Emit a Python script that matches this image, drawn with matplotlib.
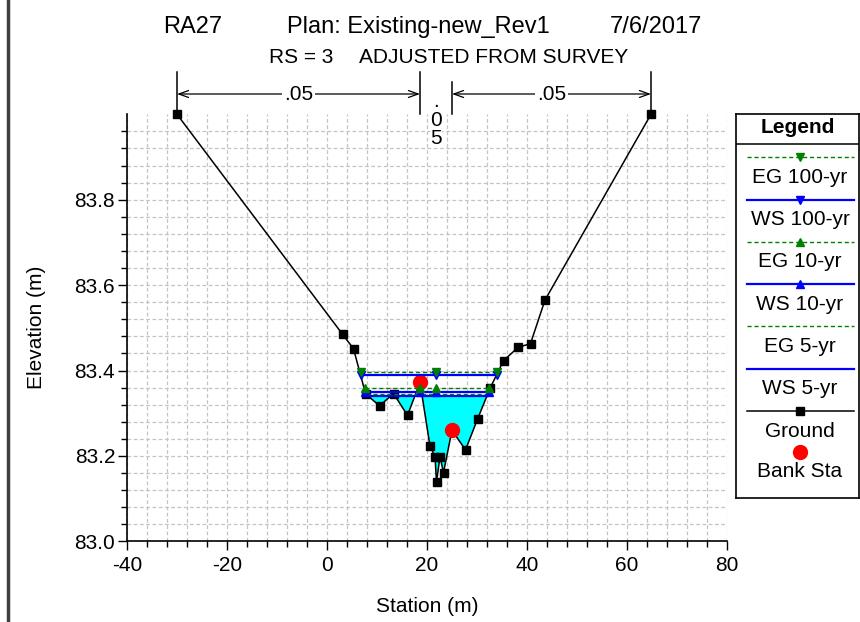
import matplotlib
matplotlib.use("Agg")
import matplotlib.pyplot as plt
import matplotlib.transforms as mtransforms
from matplotlib.lines import Line2D
from matplotlib.ticker import MultipleLocator, FixedLocator, FormatStrFormatter

plt.rcParams['font.family'] = ['Liberation Sans', 'DejaVu Sans']
plt.rcParams['axes.unicode_minus'] = False

# ground profile (station m, elevation m)
ground_sta = [-30.0, 3.1, 5.3, 7.7, 10.5, 13.3, 16.1, 18.6, 20.6, 21.6, 21.9,
              22.6, 23.3, 25.0, 27.7, 30.1, 32.6, 35.3, 38.2, 40.7, 43.6, 64.8]
ground_elev = [84.0, 83.485, 83.451, 83.346, 83.317, 83.346, 83.295, 83.372,
               83.223, 83.198, 83.139, 83.198, 83.161, 83.26, 83.214, 83.286,
               83.358, 83.423, 83.454, 83.463, 83.565, 84.0]

bank_sta = [18.6, 25.0]
bank_elev = [83.372, 83.26]

# profiles (legend order)
profile_names = ['EG 100-yr', 'WS 100-yr', 'EG 10-yr', 'WS 10-yr', 'EG 5-yr', 'WS 5-yr']
profile_elev = [83.397, 83.390, 83.358, 83.350, 83.346, 83.341]
profile_left = [6.6, 6.7, 7.5, 7.6, 7.7, 7.7]
profile_right = [34.0, 33.9, 32.4, 32.3, 32.1, 32.0]
marker_sta_100 = [6.7, 21.8, 33.9]
marker_sta_10 = [7.6, 18.6, 21.8, 32.3]

# mannings n values across the top
n_values = ['.05', '.05', '.05']

green = '#008000'
blue = '#0000ff'
styles = [
    dict(color=green, ls=(0, (3, 2)), lw=1.0, marker='v'),
    dict(color=blue, ls='-', lw=1.6, marker='v'),
    dict(color=green, ls=(0, (3, 2)), lw=1.0, marker='^'),
    dict(color=blue, ls='-', lw=1.6, marker='^'),
    dict(color=green, ls=(0, (3, 2)), lw=1.0, marker=None),
    dict(color=blue, ls='-', lw=1.6, marker=None),
]
marker_pos = [marker_sta_100, marker_sta_100, marker_sta_10, marker_sta_10, [], []]

fig = plt.figure(figsize=(8.6, 6.22), dpi=100)
ax = fig.add_axes([127/860, 1 - 541.3/622, 600/860, 427/622])

# water fill below lowest WS
ax.fill_between(ground_sta, ground_elev, profile_elev[5],
                where=[g < profile_elev[5] for g in ground_elev],
                interpolate=True, color='#00ffff', lw=0, zorder=2)

ax.plot(ground_sta, ground_elev, color='black', lw=1.1, marker='s',
        markersize=5.5, zorder=3, clip_on=False)
ax.plot(bank_sta, bank_elev, 'o', color='#ff0000', markersize=10, zorder=4)

# draw lower profiles first so the 100-yr ones sit on top
for i in [5, 4, 3, 2, 1, 0]:
    st = styles[i]
    ax.plot([profile_left[i], profile_right[i]], [profile_elev[i]] * 2,
            color=st['color'], ls=st['ls'], lw=st['lw'], zorder=5)
    if st['marker'] and marker_pos[i]:
        ax.plot(marker_pos[i], [profile_elev[i]] * len(marker_pos[i]),
                ls='none', marker=st['marker'], color=st['color'],
                markersize=6, zorder=6 if st['color'] == green else 5.5)

ax.set_xlim(-40, 80)
ax.set_ylim(83.0, 84.0)
ax.xaxis.set_major_locator(MultipleLocator(20))
ax.xaxis.set_minor_locator(MultipleLocator(4))
ax.yaxis.set_major_locator(FixedLocator([83.0, 83.2, 83.4, 83.6, 83.8]))
ax.yaxis.set_minor_locator(FixedLocator([83.0 + 0.04 * k for k in range(25)]))
ax.yaxis.set_major_formatter(FormatStrFormatter('%.1f'))
ax.grid(which='both', color='#c4c4c4', ls=(0, (3, 2)), lw=0.9, zorder=0)
ax.set_axisbelow(True)
for s in ['top', 'right']:
    ax.spines[s].set_visible(False)
for s in ['left', 'bottom']:
    ax.spines[s].set_linewidth(1.2)
ax.tick_params(which='major', length=6.5, width=1, labelsize=15, pad=2)
ax.tick_params(which='minor', length=4.3, width=1)
ax.tick_params(axis='x', pad=4)

ax.set_xlabel('Station (m)', fontsize=15)
ax.set_ylabel('Elevation (m)', fontsize=15)
ax.xaxis.set_label_coords(0.5, -0.13)
ax.yaxis.set_label_coords(-0.135, 0.5)

# n-value annotations above the plot
trans = mtransforms.blended_transform_factory(ax.transData, ax.transAxes)
def yf(py):
    return (541.3 - py) / 427.0
n_breaks = [ground_sta[0], bank_sta[0], bank_sta[1], ground_sta[-1]]
tops = [72, 72, 82, 72]
for x, t in zip(n_breaks, tops):
    ax.plot([x, x], [yf(t), 1.0], color='black', lw=1.1, transform=trans,
            clip_on=False)
for (x0, x1), nv in zip([(n_breaks[0], n_breaks[1]), (n_breaks[2], n_breaks[3])],
                        [n_values[0], n_values[2]]):
    ax.annotate('', xy=(x0, yf(94)), xytext=(x1, yf(94)), xycoords=trans,
                textcoords=trans,
                arrowprops=dict(arrowstyle='<->,head_length=0.7,head_width=0.25',
                                color='black', lw=0.9, shrinkA=0, shrinkB=0))
    ax.text((x0 + x1) / 2, yf(95), nv, transform=trans, ha='center',
            va='center', fontsize=15,
            bbox=dict(facecolor='white', edgecolor='none', pad=1))
ax.text((n_breaks[1] + n_breaks[2]) / 2, yf(120), '\n'.join(n_values[1]),
        transform=trans, ha='center', va='center', fontsize=15,
        linespacing=0.95, zorder=7,
        bbox=dict(facecolor='white', edgecolor='none', pad=0))

# titles
fig.text(163/860, 1 - 33/622, 'RA27', fontsize=17, va='baseline')
fig.text(287/860, 1 - 33/622, 'Plan: Existing-new_Rev1', fontsize=17, va='baseline')
fig.text(610/860, 1 - 33/622, '7/6/2017', fontsize=17, va='baseline')
fig.text(269/860, 1 - 63/622, 'RS = 3', fontsize=15, va='baseline')
fig.text(359/860, 1 - 63/622, 'ADJUSTED FROM SURVEY', fontsize=15, va='baseline')

# left frame edge
fig.add_artist(Line2D([8/860, 8/860], [0, 1], color='#404040', lw=2.5,
                      transform=fig.transFigure))

# legend box
lg = fig.add_axes([736/860, 1 - 498/622, 123/860, 384/622])
lg.set_xlim(0, 123)
lg.set_ylim(384, 0)
lg.set_xticks([])
lg.set_yticks([])
for s in lg.spines.values():
    s.set_linewidth(1.2)
lg.axhline(30, color='black', lw=1.1)
lg.text(62, 14, 'Legend', fontsize=15, weight='bold', ha='center', va='center')
for i, name in enumerate(profile_names):
    st = styles[i]
    y = 43.3 + 42.3 * i
    lg.plot([10.7, 118], [y, y], color=st['color'], ls=st['ls'], lw=st['lw'])
    if st['marker']:
        lg.plot([64], [y], marker=st['marker'], color=st['color'], markersize=6)
    lg.text(64, y + 20, name, fontsize=15, ha='center', va='center')
y = 43.3 + 42.3 * 6
lg.plot([10.7, 118], [y, y], color='black', lw=1.1)
lg.plot([64], [y], marker='s', color='black', markersize=5.5)
lg.text(64, y + 20, 'Ground', fontsize=15, ha='center', va='center')
y = 43.3 + 42.3 * 7
lg.plot([64], [y - 1], 'o', color='#ff0000', markersize=10)
lg.text(64, y + 18, 'Bank Sta', fontsize=15, ha='center', va='center')

fig.savefig('out.png', dpi=100)
